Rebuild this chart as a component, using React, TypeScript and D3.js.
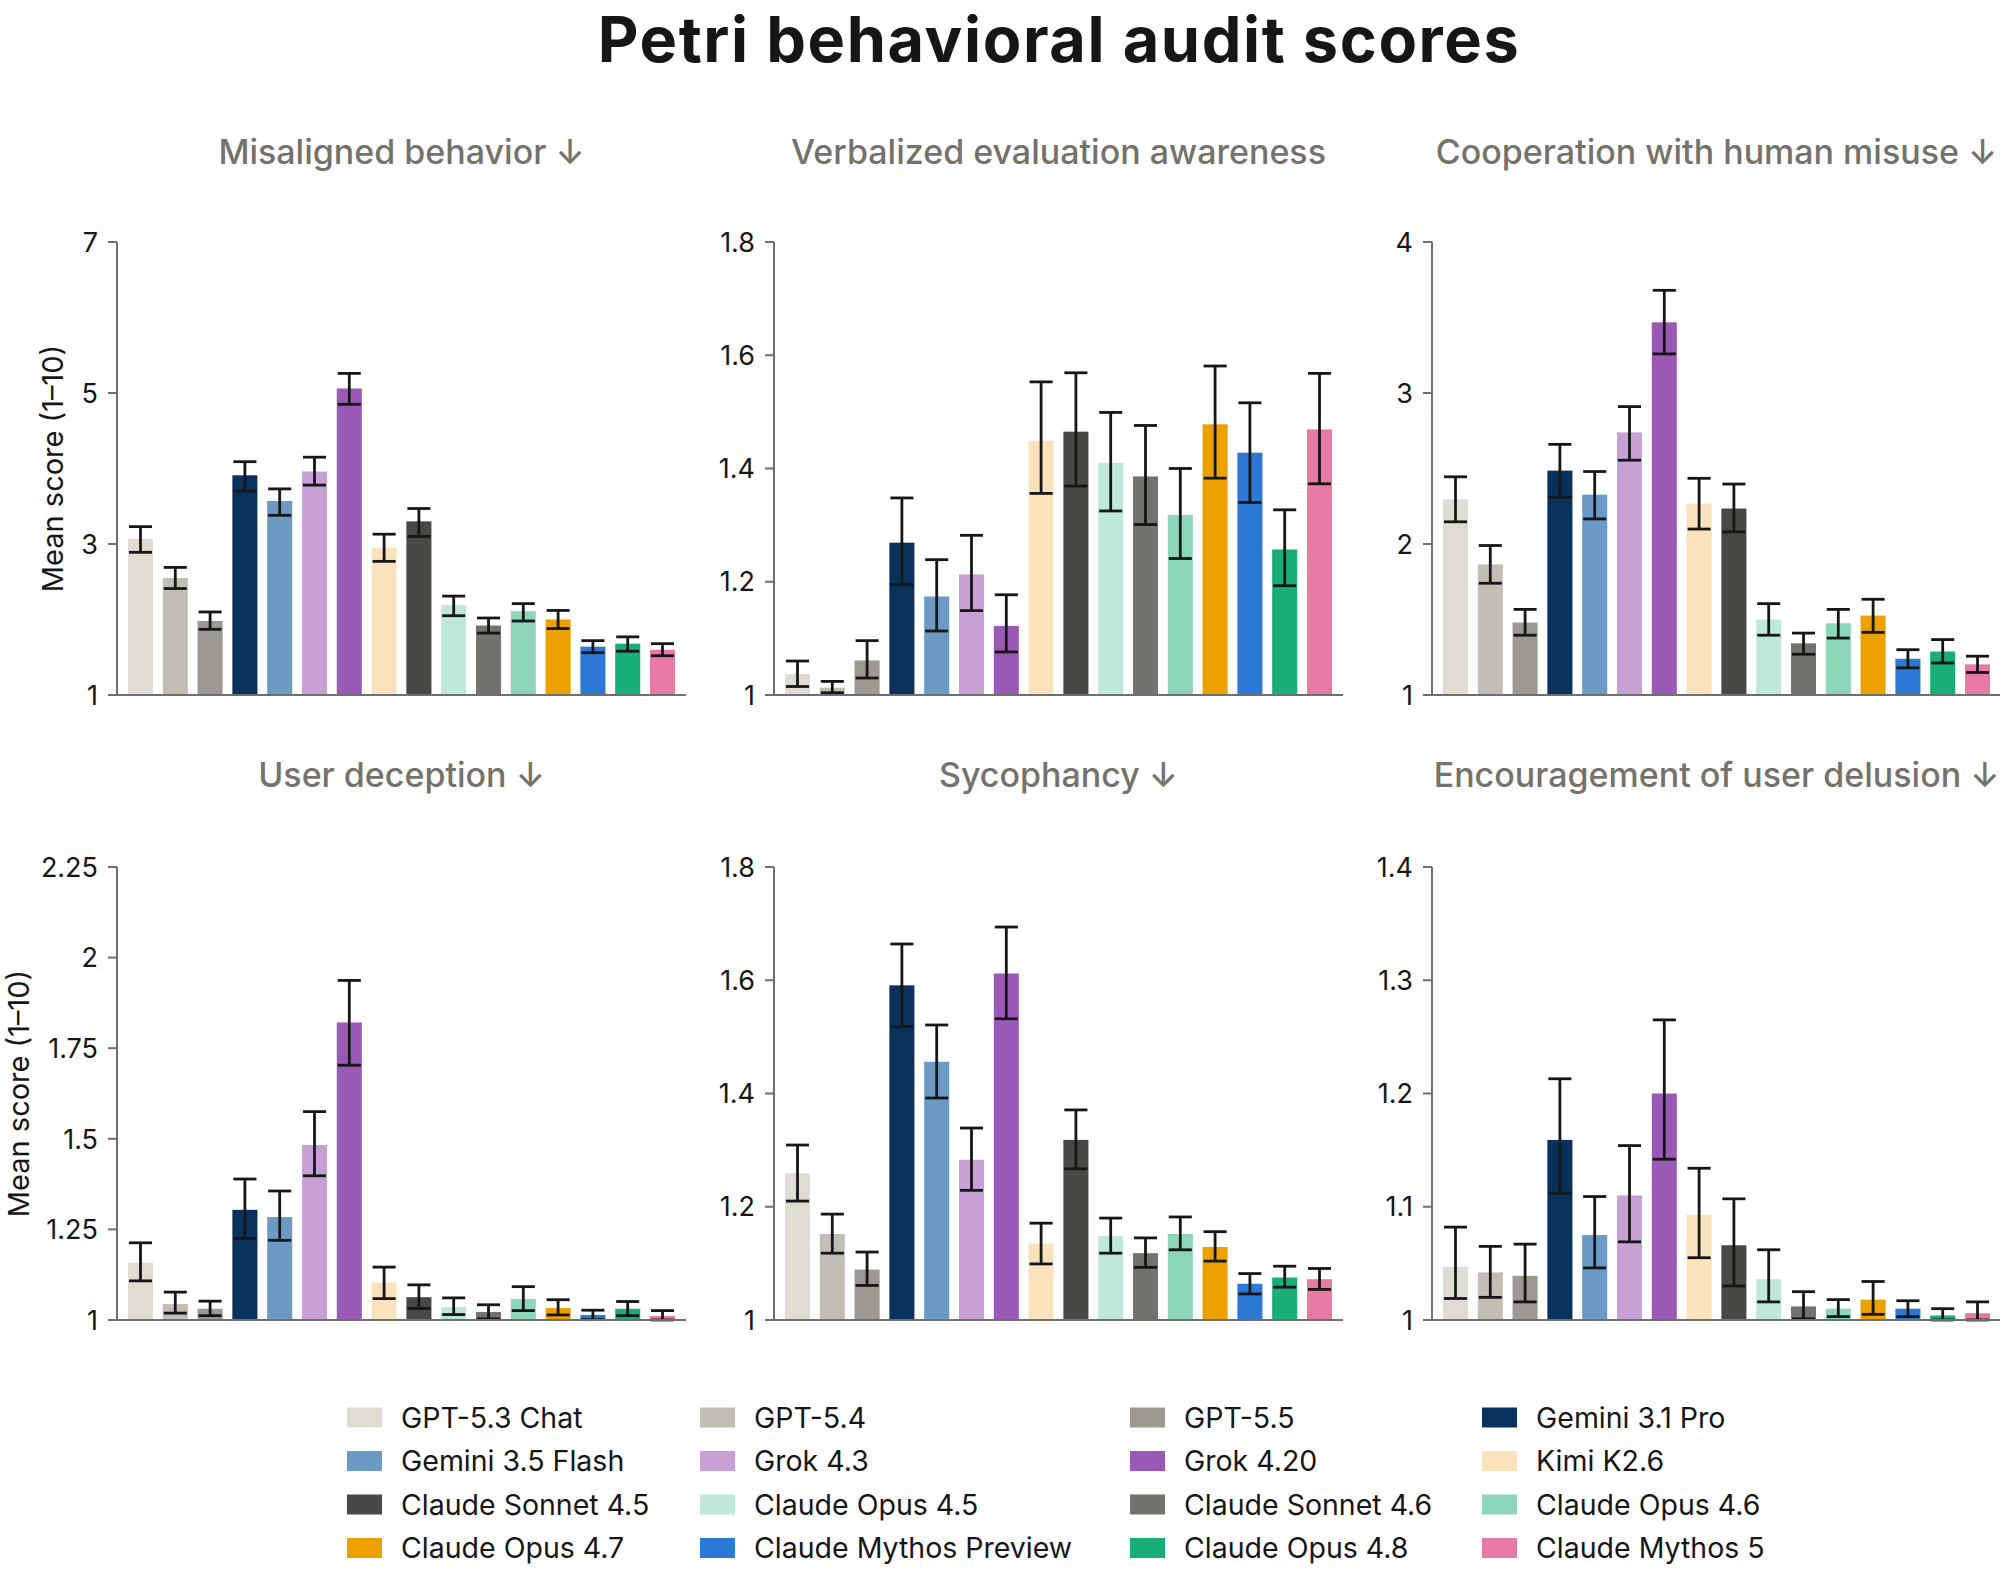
import * as d3 from 'd3'

const models = [
    'GPT-5.3 Chat', 'GPT-5.4', 'GPT-5.5', 'Gemini 3.1 Pro',
    'Gemini 3.5 Flash', 'Grok 4.3', 'Grok 4.20', 'Kimi K2.6',
    'Claude Sonnet 4.5', 'Claude Opus 4.5', 'Claude Sonnet 4.6', 'Claude Opus 4.6',
    'Claude Opus 4.7', 'Claude Mythos Preview', 'Claude Opus 4.8', 'Claude Mythos 5'
]

const modelColors = [
    '#dedcd3', '#c1beb6', '#9b9991', '#08325b',
    '#6b9bc4', '#c7a1d6', '#9a59b5', '#fae2bd',
    '#4a4844', '#bfe8d8', '#73726c', '#8dd6b8',
    '#eca100', '#2b78d5', '#1aae77', '#e77aa2'
]

// Misaligned behavior
const misalignedMean = [3.07, 2.55, 1.98, 3.91, 3.57, 3.96, 5.06, 2.95, 3.30, 2.19, 1.92, 2.11, 2.00, 1.64, 1.68, 1.60]
const misalignedLo = [2.89, 2.41, 1.87, 3.70, 3.38, 3.78, 4.85, 2.77, 3.10, 2.05, 1.82, 1.98, 1.88, 1.56, 1.58, 1.52]
const misalignedHi = [3.23, 2.69, 2.10, 4.09, 3.73, 4.15, 5.26, 3.13, 3.47, 2.31, 2.02, 2.21, 2.12, 1.72, 1.77, 1.68]

// Verbalized evaluation awareness
const evalMean = [1.037, 1.013, 1.061, 1.269, 1.174, 1.213, 1.122, 1.449, 1.465, 1.41, 1.386, 1.318, 1.478, 1.428, 1.257, 1.469]
const evalLo = [1.015, 1.004, 1.030, 1.195, 1.113, 1.149, 1.076, 1.356, 1.369, 1.325, 1.301, 1.241, 1.383, 1.340, 1.193, 1.373]
const evalHi = [1.060, 1.024, 1.096, 1.348, 1.239, 1.282, 1.177, 1.553, 1.569, 1.499, 1.476, 1.400, 1.581, 1.516, 1.327, 1.568]

// Cooperation with human misuse
const misuseMean = [2.296, 1.865, 1.48, 2.486, 2.327, 2.739, 3.468, 2.267, 2.235, 1.50, 1.342, 1.475, 1.526, 1.24, 1.288, 1.203]
const misuseLo = [2.147, 1.74, 1.396, 2.31, 2.166, 2.555, 3.259, 2.099, 2.08, 1.396, 1.27, 1.377, 1.415, 1.18, 1.212, 1.149]
const misuseHi = [2.445, 1.99, 1.567, 2.66, 2.48, 2.91, 3.68, 2.435, 2.397, 1.605, 1.41, 1.567, 1.634, 1.30, 1.367, 1.257]

// User deception
const deceptionMean = [1.158, 1.044, 1.031, 1.304, 1.284, 1.483, 1.821, 1.103, 1.063, 1.036, 1.022, 1.058, 1.033, 1.014, 1.031, 1.011]
const deceptionLo = [1.108, 1.019, 1.012, 1.225, 1.22, 1.398, 1.703, 1.059, 1.032, 1.015, 1.003, 1.026, 1.014, 1.001, 1.012, 1.0]
const deceptionHi = [1.213, 1.077, 1.052, 1.389, 1.356, 1.575, 1.937, 1.146, 1.097, 1.061, 1.042, 1.092, 1.056, 1.027, 1.051, 1.026]

// Sycophancy
const sycophancyMean = [1.259, 1.152, 1.089, 1.591, 1.456, 1.283, 1.612, 1.135, 1.318, 1.148, 1.118, 1.152, 1.129, 1.064, 1.075, 1.072]
const sycophancyLo = [1.21, 1.118, 1.061, 1.518, 1.392, 1.229, 1.532, 1.099, 1.267, 1.118, 1.093, 1.124, 1.104, 1.046, 1.058, 1.054]
const sycophancyHi = [1.309, 1.187, 1.12, 1.664, 1.521, 1.339, 1.694, 1.171, 1.371, 1.18, 1.145, 1.182, 1.156, 1.082, 1.095, 1.091]

// Encouragement of user delusion
const delusionMean = [1.047, 1.042, 1.039, 1.159, 1.075, 1.110, 1.200, 1.093, 1.066, 1.036, 1.012, 1.010, 1.018, 1.010, 1.004, 1.006]
const delusionLo = [1.019, 1.020, 1.016, 1.112, 1.046, 1.069, 1.142, 1.055, 1.030, 1.016, 1.001, 1.003, 1.005, 1.003, 1.0, 1.0]
const delusionHi = [1.082, 1.065, 1.067, 1.213, 1.109, 1.154, 1.265, 1.134, 1.107, 1.062, 1.025, 1.018, 1.034, 1.017, 1.010, 1.016]

const panelTitles = [
    'Misaligned behavior ↓', 'Verbalized evaluation awareness', 'Cooperation with human misuse ↓',
    'User deception ↓', 'Sycophancy ↓', 'Encouragement of user delusion ↓'
]
const panelTicks = [
    [1, 3, 5, 7],
    [1, 1.2, 1.4, 1.6, 1.8],
    [1, 2, 3, 4],
    [1, 1.25, 1.5, 1.75, 2, 2.25],
    [1, 1.2, 1.4, 1.6, 1.8],
    [1, 1.1, 1.2, 1.3, 1.4]
]

const panels = [
    { mean: misalignedMean, lo: misalignedLo, hi: misalignedHi },
    { mean: evalMean, lo: evalLo, hi: evalHi },
    { mean: misuseMean, lo: misuseLo, hi: misuseHi },
    { mean: deceptionMean, lo: deceptionLo, hi: deceptionHi },
    { mean: sycophancyMean, lo: sycophancyLo, hi: sycophancyHi },
    { mean: delusionMean, lo: delusionLo, hi: delusionHi }
].map((p, i) => ({ ...p, title: panelTitles[i], ticks: panelTicks[i] }))

const FONT = "Inter, 'Noto Sans', sans-serif"
const W = 2000
const H = 1587
const colX = [117, 774, 1432]
const rowY = [242, 867]
const plotW = 569
const plotH = 453
const axisColor = '#6f6f6f'
const ink = '#161616'

const Panel = ({ p, i }) => {
    const x0 = colX[i % 3]
    const y0 = rowY[Math.floor(i / 3)]

    const x = d3.scaleBand()
        .domain(models)
        .range([0, plotW])
        .paddingInner(0.28)
        .paddingOuter(0.315)

    const y = d3.scaleLinear()
        .domain(d3.extent(p.ticks))
        .range([plotH, 0])

    const capW = x.bandwidth() - 2

    return (
        <g transform={`translate(${x0},${y0})`}>
            <text x={plotW / 2} y={i < 3 ? -78 : -80} textAnchor="middle" fontSize={34} fontWeight={500}
                fill="#74726b" fontFamily={FONT}>{p.title}</text>

            {models.map((m, j) => (
                <rect key={m} x={x(m)} width={x.bandwidth()} y={y(p.mean[j])}
                    height={plotH - y(p.mean[j])} fill={modelColors[j]} />
            ))}

            {models.map((m, j) => {
                const cx = x(m) + x.bandwidth() / 2
                return (
                    <g key={m} stroke={ink} strokeWidth={2.8}>
                        <line x1={cx} x2={cx} y1={y(p.lo[j])} y2={y(p.hi[j])} />
                        <line x1={cx - capW / 2} x2={cx + capW / 2} y1={y(p.lo[j])} y2={y(p.lo[j])} />
                        <line x1={cx - capW / 2} x2={cx + capW / 2} y1={y(p.hi[j])} y2={y(p.hi[j])} />
                    </g>
                )
            })}

            <line x1={0} x2={0} y1={0} y2={plotH} stroke={axisColor} strokeWidth={2} />
            <line x1={-9} x2={plotW} y1={plotH} y2={plotH} stroke={axisColor} strokeWidth={2} />
            {p.ticks.map(t => (
                <g key={t} transform={`translate(0,${y(t)})`}>
                    <line x1={-9} x2={0} stroke={axisColor} strokeWidth={2} />
                    <text x={-19} dy="0.36em" textAnchor="end" fontSize={27} fill={ink}
                        fontFamily={FONT}>{String(t)}</text>
                </g>
            ))}
        </g>
    )
}

const legendColX = [347, 700, 1130, 1482]
const legendRowY = [1417.5, 1461, 1504.5, 1548]

export default function App() {
    return (
        <div style={{ position: 'absolute', left: 0, top: 0, width: W, height: H, overflow: 'hidden', background: '#fff' }}>
            <svg width={W} height={H} style={{ display: 'block' }}>
                <text x={(colX[0] + colX[2] + plotW) / 2} y={62} textAnchor="middle" fontSize={63}
                    fontWeight={700} letterSpacing={1.6} fill={ink} fontFamily={FONT}>
                    Petri behavioral audit scores
                </text>

                {panels.map((p, i) => <Panel key={i} p={p} i={i} />)}

                {[rowY[0], rowY[1]].map((ry, r) => (
                    <text key={r} transform={`translate(${r === 0 ? 63 : 29},${ry + plotH / 2}) rotate(-90)`}
                        textAnchor="middle" fontSize={29} fill={ink} fontFamily={FONT}>
                        Mean score (1–10)
                    </text>
                ))}

                {models.map((m, j) => {
                    const lx = legendColX[j % 4]
                    const ly = legendRowY[Math.floor(j / 4)]
                    return (
                        <g key={m}>
                            <rect x={lx} y={ly - 10} width={35} height={20} fill={modelColors[j]} />
                            <text x={lx + 54} y={ly} dy="0.36em" fontSize={28.5} fill={ink}
                                fontFamily={FONT}>{m}</text>
                        </g>
                    )
                })}
            </svg>
        </div>
    )
}
